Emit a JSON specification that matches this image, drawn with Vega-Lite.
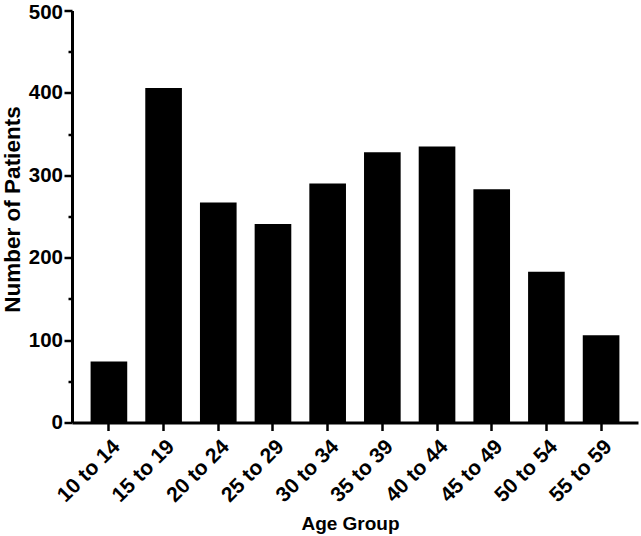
{
  "$schema": "https://vega.github.io/schema/vega-lite/v6.json",
  "autosize": "none",
  "width": 566,
  "height": 412,
  "padding": {"left": 72, "top": 10.5, "right": 3, "bottom": 113.5},
  "background": "white",
  "config": {
    "view": {"stroke": null},
    "font": "Liberation Sans",
    "axis": {"grid": false, "domainColor": "black", "tickColor": "black", "labelColor": "black", "titleColor": "black"}
  },
  "data": {
    "values": [
      {"group": "10 to 14", "patients": 74},
      {"group": "15 to 19", "patients": 406},
      {"group": "20 to 24", "patients": 267},
      {"group": "25 to 29", "patients": 241},
      {"group": "30 to 34", "patients": 290},
      {"group": "35 to 39", "patients": 328},
      {"group": "40 to 44", "patients": 335},
      {"group": "45 to 49", "patients": 283},
      {"group": "50 to 54", "patients": 183},
      {"group": "55 to 59", "patients": 106}
    ]
  },
  "mark": {"type": "bar", "color": "black"},
  "encoding": {
    "x": {
      "field": "group",
      "type": "nominal",
      "sort": null,
      "scale": {"paddingInner": 0.33, "paddingOuter": 0.34},
      "axis": {
        "title": "Age Group",
        "titleFontSize": 19,
        "titleFontWeight": "bold",
        "titleX": 278,
        "titleY": 100.5,
        "titleBaseline": "middle",
        "titleAlign": "center",
        "labelAngle": -45,
        "labelAlign": "right",
        "labelBaseline": "top",
        "labelFontSize": 21,
        "labelFontWeight": "bold",
        "labelPadding": 5,
        "tickSize": 8,
        "tickWidth": 2.5,
        "domainWidth": 3
      }
    },
    "y": {
      "field": "patients",
      "type": "quantitative",
      "scale": {"domain": [0, 500], "nice": false},
      "axis": {
        "title": "Number of Patients",
        "titleFontSize": 22.5,
        "titleFontWeight": "bold",
        "titleAngle": -90,
        "titleX": -60,
        "titleY": 198.5,
        "titleBaseline": "middle",
        "titleAlign": "center",
        "values": [0, 50, 100, 150, 200, 250, 300, 350, 400, 450, 500],
        "labelExpr": "datum.value % 100 === 0 ? datum.label : ''",
        "labelOverlap": false,
        "labelFontSize": 20.5,
        "labelFontWeight": "bold",
        "labelPadding": 1.5,
        "labelOffset": {"condition": {"test": "datum.value === 500", "value": 1.5}, "value": 0},
        "tickSize": {"condition": {"test": "datum.value % 100 === 0", "value": 8}, "value": 4},
        "tickWidth": 2.5,
        "domainWidth": 3
      }
    }
  }
}
